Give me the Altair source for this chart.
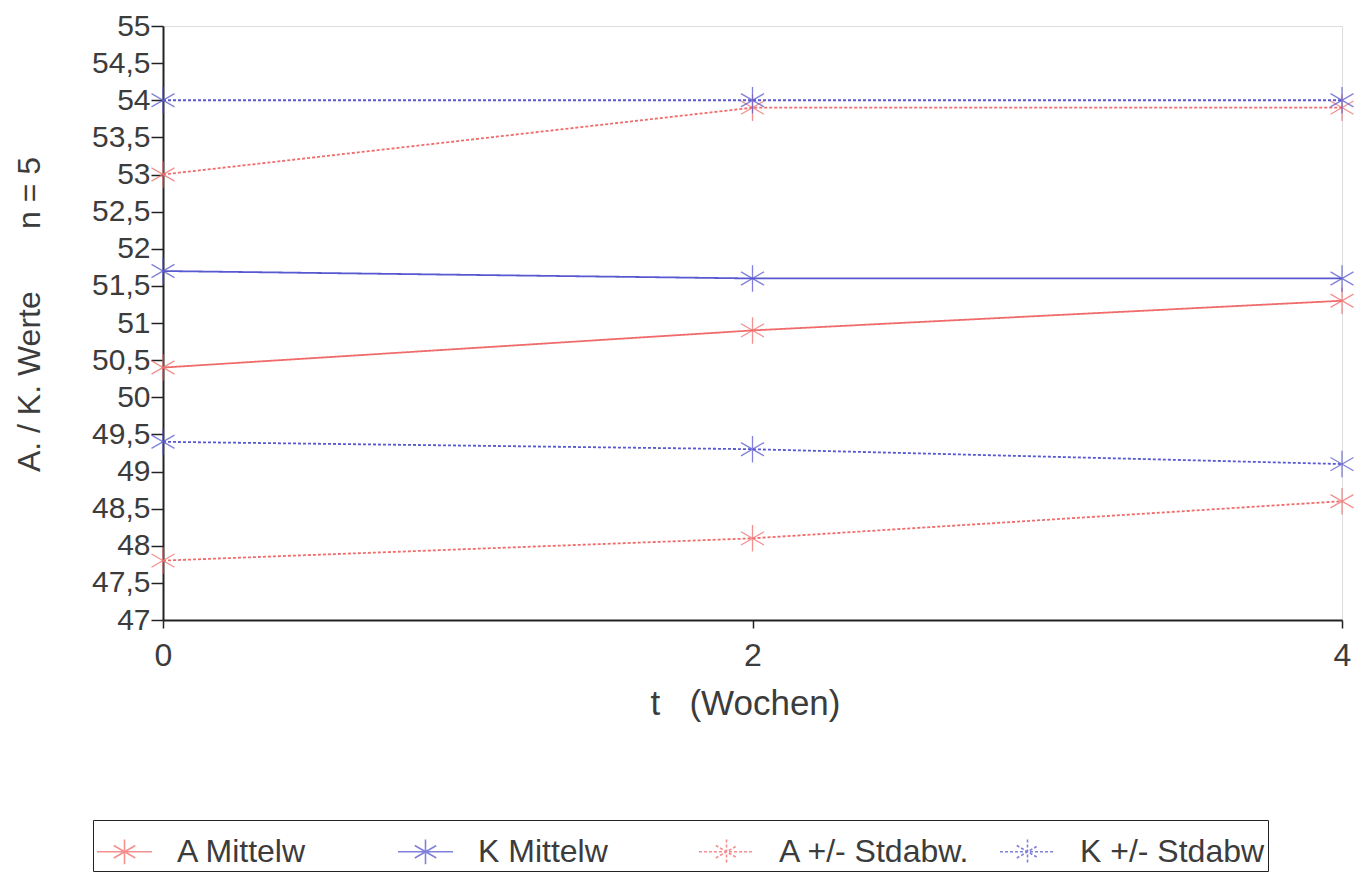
import altair as alt
import pandas as pd

# Data
t = [0, 2, 4]
a_mean = [50.4, 50.9, 51.3]
k_mean = [51.7, 51.6, 51.6]
a_upper = [53.0, 53.9, 53.9]
a_lower = [47.8, 48.1, 48.6]
k_upper = [54.0, 54.0, 54.0]
k_lower = [49.4, 49.3, 49.1]

series_names = ["A Mittelw", "K Mittelw", "A +/- Stdabw.", "K +/- Stdabw"]
series_colors = ["#f06c6c", "#5858d0", "#f06c6c", "#5858d0"]
series_dash = [[1, 0], [1, 0], [3, 2], [3, 2]]

y_ticks = [47 + 0.5 * i for i in range(17)]
x_ticks = [0, 2, 4]

rows = []
for name, line_id, vals in [
    ("A Mittelw", "a_mean", a_mean),
    ("K Mittelw", "k_mean", k_mean),
    ("A +/- Stdabw.", "a_upper", a_upper),
    ("A +/- Stdabw.", "a_lower", a_lower),
    ("K +/- Stdabw", "k_upper", k_upper),
    ("K +/- Stdabw", "k_lower", k_lower),
]:
    for tt, v in zip(t, vals):
        rows.append({"t": tt, "value": v, "series": name, "line": line_id})
df = pd.DataFrame(rows)

star = "M0,-1L0,1M-0.87,-0.5L0.87,0.5M-0.87,0.5L0.87,-0.5"
legend_sym = "M-1,0L1,0M0,-0.45L0,0.45M-0.39,-0.225L0.39,0.225M-0.39,0.225L0.39,-0.225"

FONT = "Liberation Sans"
TXT = "#3c3c3c"
NB = "\u00a0"

legend = alt.Legend(
    title=None,
    orient="none",
    legendX=-70,
    legendY=794,
    direction="horizontal",
    columns=4,
    gridAlign="all",
    columnPadding=25,
    strokeColor="#222222",
    padding=3,
    labelFont=FONT,
    labelFontSize=32,
    labelColor=TXT,
    labelOffset=24,
    symbolType=legend_sym,
    symbolSize=3025,
    symbolStrokeWidth=1.6,
    symbolFillColor="transparent",
    labelLimit=400,
)

color = alt.Color("series:N", scale=alt.Scale(domain=series_names, range=series_colors), legend=legend)
dash = alt.StrokeDash("series:N", scale=alt.Scale(domain=series_names, range=series_dash), legend=legend)

x = alt.X(
    "t:Q",
    scale=alt.Scale(domain=[0, 4], nice=False),
    axis=alt.Axis(
        values=x_ticks,
        title="t" + NB * 3 + "(Wochen)",
        titleX=582,
        titleY=83,
        titleBaseline="middle",
        titleFont=FONT,
        titleFontSize=35,
        titleFontWeight="normal",
        titleColor=TXT,
        labelFont=FONT,
        labelFontSize=32,
        labelColor=TXT,
        labelPadding=12,
        tickSize=8,
        tickColor="#222222",
        tickWidth=1.5,
        domainColor="#222222",
        domainWidth=2,
        grid=False,
        labelFlush=False,
    ),
)
y = alt.Y(
    "value:Q",
    scale=alt.Scale(domain=[47, 55], nice=False, zero=False),
    axis=alt.Axis(
        values=y_ticks,
        labelExpr="replace(toString(datum.value), '.', ',')",
        title="A." + NB + "/" + NB + "K." + NB + "Werte" + NB * 7 + "n" + NB + "=" + NB + "5",
        titleX=-134,
        titleY=288,
        titleAngle=270,
        titleAlign="center",
        titleBaseline="middle",
        titleFont=FONT,
        titleFontSize=32,
        titleFontWeight="normal",
        titleColor=TXT,
        labelFont=FONT,
        labelFontSize=30,
        labelColor=TXT,
        labelPadding=1,
        tickSize=12,
        tickColor="#222222",
        tickWidth=1.5,
        domainColor="#222222",
        domainWidth=2,
        grid=False,
    ),
)

lines = alt.Chart(df).mark_line(strokeWidth=1.8).encode(
    x=x, y=y, color=color, strokeDash=dash, detail="line:N"
)
points = alt.Chart(df).mark_point(shape=star, size=700, filled=False, strokeWidth=1.3, opacity=0.75).encode(
    x=x, y=y, color=color
)

chart = (
    alt.layer(lines, points)
    .properties(
        width=1179,
        height=594,
        autosize=alt.AutoSizeParams(type="none"),
        padding={"left": 155, "top": 18, "right": 15, "bottom": 257},
    )
    .configure_view(stroke="#222222", strokeWidth=2)
    .configure(background="white")
)

chart.save("out.html", embed_options={"renderer": "svg", "actions": False})
